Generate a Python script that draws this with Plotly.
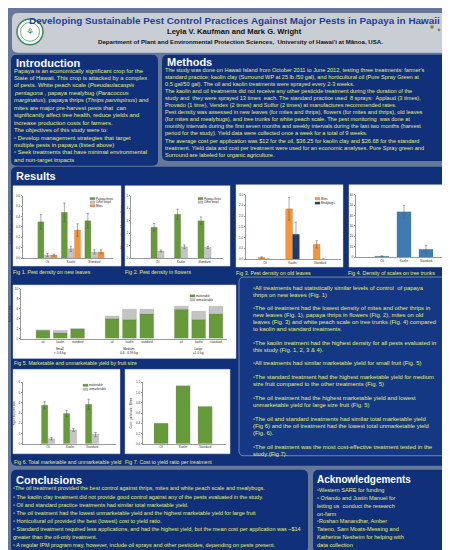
import plotly.graph_objects as go

W, H = 450, 550
NAVY = "#10317a"
BG = "#66789a"
TXT = "#e3ed6f"
GREEN = "#679a3b"
GRAY = "#c4c4c4"
ORANGE = "#f5963a"
DKBLUE = "#1f3a68"
STEEL = "#3f7bb2"
FONT = "Liberation Sans, Arial, sans-serif"

# ---------------- data ----------------
treatments = ["Oil", "Kaolin", "Standard"]

fig1_series = ["Papaya thrips", "Other thrips", "Mites"]
fig1_papaya = [0.35, 0.44, 0.36]
fig1_papaya_err = [0.07, 0.09, 0.07]
fig1_other = [0.03, 0.09, 0.06]
fig1_other_err = [0.015, 0.025, 0.02]
fig1_mites = [0.03, 0.27, 0.06]
fig1_mites_err = [0.01, 0.06, 0.02]

fig2_series = ["Papaya thrips", "Other thrips"]
fig2_papaya = [2.47, 3.52, 3.0]
fig2_papaya_err = [0.3, 0.4, 0.3]
fig2_other = [0.57, 0.91, 0.86]
fig2_other_err = [0.08, 0.15, 0.08]

fig3_series = ["Mites", "Mealybugs"]
fig3_mites = [0.08, 2.34, 0.69]
fig3_mites_err = [0.03, 0.53, 0.17]
fig3_mealy = [0.0, 1.16, 0.0]
fig3_mealy_err = [0.0, 0.56, 0.0]

fig4_scales = [1.0, 43.5, 7.7]
fig4_scales_err = [0.3, 6.0, 3.8]

fruit_sizes = ["Small", "Medium", "Large"]
fruit_size_ranges = ["< 0.6 kg", "0.6 - 0.99 kg", "≥1.0 kg"]
fruit_treatments = ["oil", "kaolin", "standard"]
fig5_series = ["marketable", "unmarketable"]
fig5_marketable = [1.68, 1.20, 1.95, 4.03, 3.83, 4.97, 5.90, 3.83, 5.03]
fig5_unmarketable = [0.05, 0.45, 0.05, 0.53, 2.08, 0.93, 0.60, 1.67, 1.47]

fig6_series = ["marketable", "unmarketable"]
fig6_marketable = [3.75, 2.95, 3.85]
fig6_marketable_err = [0.35, 0.3, 0.5]
fig6_unmarketable = [0.5, 1.35, 0.9]
fig6_unmarketable_err = [0.12, 0.15, 0.2]

fig7_ratio = [0.40, 1.13, 0.73]

# ---------------- helpers ----------------
def X(p):
    return p / W


def Y(p):
    return 1 - p / H


shapes = []
annotations = []


def rrect(x0, y0, x1, y1, r, fill, line=None, lw=0):
    rx, ry = r / W, r / H
    a0, a1 = X(x0), X(x1)
    b0, b1 = Y(y0), Y(y1)
    path = (f"M {a0+rx},{b0} L {a1-rx},{b0} Q {a1},{b0} {a1},{b0-ry} "
            f"L {a1},{b1+ry} Q {a1},{b1} {a1-rx},{b1} L {a0+rx},{b1} "
            f"Q {a0},{b1} {a0},{b1+ry} L {a0},{b0-ry} Q {a0},{b0} {a0+rx},{b0} Z")
    shapes.append(dict(type="path", xref="paper", yref="paper", path=path,
                       fillcolor=fill, line=dict(color=line or fill, width=lw),
                       layer="below"))


def rect(x0, y0, x1, y1, fill, line=None, lw=0, layer="below"):
    shapes.append(dict(type="rect", xref="paper", yref="paper",
                       x0=X(x0), x1=X(x1), y0=Y(y1), y1=Y(y0),
                       fillcolor=fill, line=dict(color=line or fill, width=lw),
                       layer=layer))


def circle(cx, cy, r, fill, line=None, lw=0):
    shapes.append(dict(type="circle", xref="paper", yref="paper",
                       x0=X(cx - r), x1=X(cx + r), y0=Y(cy + r), y1=Y(cy - r),
                       fillcolor=fill, line=dict(color=line or fill, width=lw),
                       layer="above"))


def text(x, y, t, size, color=TXT, bold=False, anchor="left"):
    if bold:
        t = f"<b>{t}</b>"
    annotations.append(dict(x=X(x), y=Y(y), xref="paper", yref="paper", text=t,
                            showarrow=False, xanchor=anchor, yanchor="middle",
                            font=dict(size=size, color=color, family=FONT),
                            borderpad=0, borderwidth=0))


def block(lines, x, y0, dy, size, color=TXT):
    for i, t in enumerate(lines):
        text(x, y0 + i * dy, t, size, color)


def legend(items, x, y0, dy, size=2.8):
    for i, (name, col) in enumerate(items):
        yy = y0 + i * dy
        rect(x, yy - 1.2, x + 5, yy + 1.2, col, "#888", 0.3, layer="above")
        text(x + 6, yy, name, size, "#222")


# ---------------- panels ----------------
rrect(4, 3, 446, 43, 6, "#c9cdd4")
rrect(3, 45, 150, 157, 6, NAVY)
rrect(154, 45, 447, 152, 6, NAVY)
rrect(3, 158, 447, 459, 6, NAVY)
rrect(231, 269, 446, 449, 5, "#143883", "#8c9cc0", 0.8)
rrect(3, 463, 300, 547, 6, NAVY)
rrect(305, 463, 447, 547, 6, NAVY)

for bx in [(5, 177, 113, 258), (117, 177, 222, 258), (228, 176, 335, 259),
           (341, 176, 446, 259), (5, 277, 228, 351), (5, 362, 112, 447),
           (117, 362, 222, 447)]:
    rect(*bx, "white", "#d0d0d0", 0.5)

# logo and islands
circle(22, 22, 13, "white", "#3b8a55", 1.5)
circle(22, 22, 9.5, "white", "#3b8a55", 0.7)
text(22, 22, "⚘", 9, "#3b8a55", anchor="center")
for cx, cy, r in [(414, 13, 1.2), (424, 17, 1.6), (431, 20, 1.2), (436, 22, 0.9),
                  (438, 26, 1.8), (441, 28, 1.0), (443, 36, 4.0)]:
    circle(cx, cy, r, "#7d8a3a", "#6a7a30", 0.3)

# ---------------- header text ----------------
text(226, 11, "Developing Sustainable Pest Control Practices Against Major Pests in Papaya in Hawaii",
     9.9, "#1f3d9c", bold=True, anchor="center")
text(226, 22, "Leyla V. Kaufman and Mark G. Wright", 7.6, "#111", bold=True, anchor="center")
text(232, 32, "Department of Plant and Environmental Protection Sciences,  University of Hawai'i at Mānoa, USA.",
     6.1, "#111", bold=True, anchor="center")

B = "▫"
text(8, 53, "Introduction", 11, "white", bold=True)
block([
    "Papaya is an economically significant crop for the",
    "State of Hawaii. This crop is attacked by a complex",
    "of pests. White peach scale (<i>Pseudaulacaspis</i>",
    "<i>pentagona</i> , papaya mealybug (<i>Paracoccus</i>",
    "<i>marginatus</i>), papaya thrips (<i>Thrips parvispinus</i>) and",
    "mites are major pre-harvest pests that  can",
    "significantly affect tree health, reduce yields and",
    "increase production costs for farmers.",
    "The objectives of this study were to:",
    f"{B} Develop management strategies that target",
    "multiple pests in papaya (listed above)",
    f"{B} Seek treatments that have minimal environmental",
    "and non-target impacts",
], 6, 61, 7.5, 5.9)

text(159, 52, "Methods", 11, "white", bold=True)
block([
    "The study was done on Hawaii Island from October 2011 to June 2012, testing three treatments: farmer's",
    "standard practice; kaolin clay (Surround WP at 25 lb /50 gal), and horticultural oil (Pure Spray Green at",
    "0.5 gal/50 gal). The oil and kaolin treatments were sprayed every 2-3 weeks.",
    "The kaolin and oil treatments did not receive any other pesticide treatment during the duration of the",
    "study and  they were sprayed 13 times  each. The standard practice used  8 sprays:  Applaud (3 times),",
    "Provado (1 time), Vendex (2 times) and Sulfur (2 times) at manufactures recommended rates.",
    "Pest density was assessed in new leaves (for mites and thrips), flowers (for mites and thrips), old leaves",
    "(for mites and mealybugs), and tree trunks for white peach scale. The pest monitoring  was done at",
    "monthly intervals during the first seven months and weekly intervals during the last two months (harvest",
    "period for the study). Yield data were collected once a week for a total of 9 weeks.",
    "The average cost per application was $12 for the oil, $36.25 for kaolin clay and $26.68 for the standard",
    "treatment. Yield data and cost per treatment were used for an economic analyses. Pure Spray green and",
    "Surround are labeled for organic agriculture.",
], 157, 60, 7.15, 5.6)

text(8, 167, "Results", 11, "white", bold=True)

# captions
text(5, 264, "Fig 1. Pest density on new leaves", 5.2)
text(117, 264, "Fig 2. Pest density in flowers", 5.2)
text(228, 265, "Fig 3. Pest density on old leaves", 5.2)
text(340, 265, "Fig 4. Density of scales on tree trunks", 5.2)
text(6, 356, "Fig 5. Marketable and unmarketable yield by fruit size", 5.2)
text(6, 455, "Fig 6. Total marketable and unmarketable yield", 5.2)
text(117, 455, "Fig 7. Cost to yield ratio per treatment", 5.2)

# result statements
res_paras = [
    (280, [f"{B}All treatments had statistically similar levels of control  of papaya",
           "thrips on new leaves (Fig. 1)"]),
    (300, [f"{B}The oil treatment had the lowest density of mites and other thrips in",
           "new leaves (Fig. 1), papaya thrips in flowers (Fig. 2), mites on old",
           "leaves (Fig. 3) and white peach scale on tree trunks (Fig. 4) compared",
           "to kaolin and standard treatments."]),
    (335, [f"{B}The kaolin treatment had the highest density for all pests evaluated in",
           "this study (Fig. 1, 2, 3 & 4)."]),
    (356, [f"{B}All treatments had similar marketable yield for small fruit (Fig. 5)"]),
    (370, [f"{B}The standard treatment had the highest marketable yield for medium",
           "size fruit compared to the other treatments (Fig. 5)"]),
    (391, [f"{B}The oil treatment had the highest marketable yield and lowest",
           "unmarketable yield for large size fruit (Fig. 5)"]),
    (412, [f"{B}The oil and standard treatments had similar total marketable yield",
           "(Fig 6) and the oil treatment had the lowest total unmarketable yield",
           "(Fig. 6)."]),
    (440, [f"{B}The oil treatment was the most cost-effective treatment tested in the",
           "study (Fig 7)."]),
]
for y0, lines in res_paras:
    block(lines, 245, y0, 7.1, 5.9)

text(8, 473, "Conclusions", 11, "white", bold=True)
block([
    f"{B}The oil treatment provided the best control against thrips, mites and white peach scale and mealybugs.",
    f"{B} The kaolin clay treatment did not provide good control against any of the pests evaluated in the study.",
    f"{B} Oil and standard practice treatments had similar total marketable yield.",
    f"{B} The oil treatment had the lowest unmarketable yield and the highest marketable yield for large fruit",
    f"{B} Horticultural oil provided the best (lowest) cost to yield ratio.",
    f"{B} Standard treatment required less applications, and had the highest yield, but the mean cost per application was ~$14",
    "greater than the oil-only treatment.",
    f"{B} A regular IPM program may, however, include oil sprays and other pesticides, depending on pests present.",
], 5, 482, 8.2, 5.5)

text(309, 473, "Acknowledgements", 10, "white", bold=True)
block([
    f"{B}Western SARE for funding",
    f"{B} Orlando and Justin Manuel for",
    "letting us  conduct the research",
    "on-farm",
    f"{B}Roshan Manandhar, Amber",
    "Tateno, Sam Moats-Messing and",
    "Katherine Nesheim for helping with",
    "data collection",
], 309, 484, 7.8, 5.6)

# ---------------- charts ----------------
fig = go.Figure()


def err(arr):
    return dict(type="data", array=arr, visible=True, thickness=0.5, width=1.2, color="#555")


def bar(xv, yv, col, ax, width, offset, e=None, base=None):
    fig.add_trace(go.Bar(x=xv, y=yv, width=width, offset=offset, base=base,
                         marker=dict(color=col, line=dict(color="#777", width=0.2)),
                         error_y=err(e) if e is not None else None,
                         xaxis="x" + ax, yaxis="y" + ax, showlegend=False,
                         hoverinfo="skip"))


# Fig 1
for k, (vals, e, col) in enumerate(zip([fig1_papaya, fig1_other, fig1_mites],
                                       [fig1_papaya_err, fig1_other_err, fig1_mites_err],
                                       [GREEN, GRAY, ORANGE])):
    bar(treatments, vals, col, "", 0.26, -0.41 + 0.28 * k, e)
legend(list(zip(fig1_series, [GREEN, GRAY, ORANGE])), 82, 190, 3.6)

# Fig 2
for k, (vals, e, col) in enumerate(zip([fig2_papaya, fig2_other],
                                       [fig2_papaya_err, fig2_other_err],
                                       [GREEN, GRAY])):
    bar(treatments, vals, col, "2", 0.27, -0.28 + 0.29 * k, e)
legend(list(zip(fig2_series, [GREEN, GRAY])), 190, 190, 3.6)

# Fig 3
for k, (vals, e, col) in enumerate(zip([fig3_mites, fig3_mealy],
                                       [fig3_mites_err, fig3_mealy_err],
                                       [ORANGE, DKBLUE])):
    bar(treatments, vals, col, "3", 0.25, -0.25 + 0.25 * k, e)
legend(list(zip(fig3_series, [ORANGE, DKBLUE])), 307, 190, 4.5)

# Fig 4
bar(treatments, fig4_scales, STEEL, "4", 0.64, -0.32, fig4_scales_err)

# Fig 5
pos5 = [g * 4 + i for g in range(len(fruit_sizes)) for i in range(len(fruit_treatments))]
bar(pos5, fig5_marketable, GREEN, "5", 0.8, -0.4)
bar(pos5, fig5_unmarketable, GRAY, "5", 0.8, -0.4, base=fig5_marketable)
legend(list(zip(fig5_series, [GREEN, GRAY])), 182, 288, 4.0)
for g, (nm, rg) in enumerate(zip(fruit_sizes, fruit_size_ranges)):
    annotations.append(dict(x=g * 4 + 1, y=Y(344), xref="x5", yref="paper",
                            text=f"{nm}<br>{rg}", showarrow=False, yanchor="middle",
                            font=dict(size=3.2, color="#222", family=FONT)))

# Fig 6
for k, (vals, e, col) in enumerate(zip([fig6_marketable, fig6_unmarketable],
                                       [fig6_marketable_err, fig6_unmarketable_err],
                                       [GREEN, GRAY])):
    bar(treatments, vals, col, "6", 0.29, -0.3 + 0.31 * k, e)
legend(list(zip(fig6_series, [GREEN, GRAY])), 75, 378, 4.0)

# Fig 7
bar(treatments, fig7_ratio, GREEN, "7", 0.64, -0.32)

# ---------------- axes ----------------
def xax(px0, px1, rng, anchor, **kw):
    d = dict(domain=[X(px0), X(px1)], range=rng, anchor=anchor, showline=True,
             linecolor="#999", linewidth=0.5, ticks="", showgrid=False, zeroline=False,
             tickfont=dict(size=3, color="#333", family=FONT), fixedrange=True)
    d.update(kw)
    return d


def yax(py0, py1, rng, dtick, fmt, title, anchor):
    return dict(domain=[Y(py1), Y(py0)], range=rng, dtick=dtick, tickformat=fmt,
                anchor=anchor, showline=True, linecolor="#999", linewidth=0.5,
                ticks="outside", ticklen=1.5, tickwidth=0.4, tickcolor="#999",
                showgrid=False, zeroline=False,
                tickfont=dict(size=3, color="#333", family=FONT),
                title=dict(text=title, font=dict(size=3, color="#333", family=FONT), standoff=3),
                fixedrange=True)


layout_axes = dict(
    xaxis=xax(15, 105, [-1.04, 2.79], "y"),
    yaxis=yax(187, 250, [0, 0.6], 0.1, ".1f", "# individuals per new leaf", "x"),
    xaxis2=xax(123, 215, [-1.13, 2.79], "y2"),
    yaxis2=yax(187, 250, [0, 5], 1, "d", "Mean number of thrips per flower", "x2"),
    xaxis3=xax(238, 333, [-0.69, 2.76], "y3"),
    yaxis3=yax(186, 251, [0, 3], 0.5, ".1f", "# individuals per old leaf", "x3"),
    xaxis4=xax(348, 440, [-1.18, 3.0], "y4"),
    yaxis4=yax(186, 249, [0, 60], 10, "d", "# scales on tree trunk", "x4"),
    xaxis5=xax(13, 219, [-1.27, 10.64], "y5", tickmode="array", tickvals=pos5,
               ticktext=fruit_treatments * len(fruit_sizes)),
    yaxis5=yax(281, 331, [0, 10], 2, "d", "Kg fruit / tree", "x5"),
    xaxis6=xax(15, 108, [-1.14, 3.09], "y6"),
    yaxis6=yax(375, 437, [0, 6], 1, "d", "Kg of fruit per tree", "x6"),
    xaxis7=xax(135, 218, [-0.82, 2.95], "y7"),
    yaxis7=yax(375, 437, [0, 1.2], 0.2, ".1f", "Cost : yield ratio, $/tree", "x7"),
)

fig.update_layout(
    width=W, height=H, margin=dict(l=0, r=0, t=0, b=0),
    paper_bgcolor=BG, plot_bgcolor="rgba(0,0,0,0)",
    barmode="overlay", showlegend=False,
    font=dict(family=FONT),
    shapes=shapes, annotations=annotations,
    **layout_axes,
)

fig.write_html("out.html")
